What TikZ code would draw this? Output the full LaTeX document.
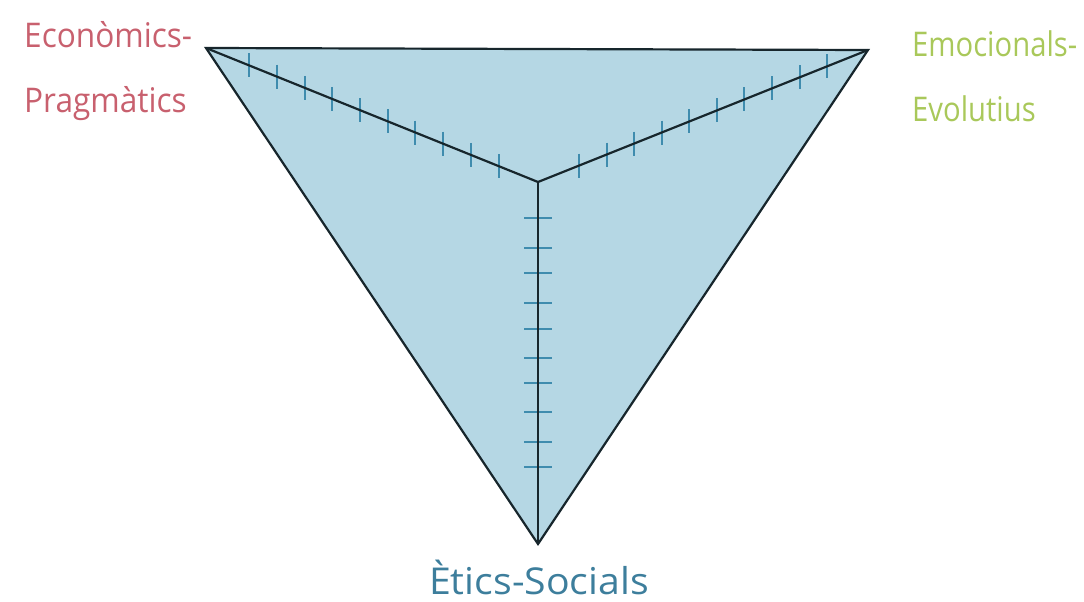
\documentclass[tikz,border=0pt]{standalone}
\usepackage{fontspec}
\setmainfont{Open Sans}
\usetikzlibrary{calc}
\definecolor{fillblue}{HTML}{B5D7E4}
\definecolor{edge}{HTML}{17262C}
\definecolor{tickc}{HTML}{3F8CAE}
\definecolor{redlab}{HTML}{C8606E}
\definecolor{greenlab}{HTML}{A9C85A}
\definecolor{bluelab}{HTML}{3D7E9C}
\begin{document}
\begin{tikzpicture}[x=1pt,y=-1pt,
  edgeline/.style={draw=edge,line width=2.2pt,line join=miter},
  tickline/.style={draw=tickc,line width=2pt},
  lab/.style={font=\fontsize{34}{40}\selectfont\addfontfeature{FakeStretch=0.93}, inner sep=0pt, anchor=base west},
  greenlabel/.style={font=\fontsize{34}{40}\selectfont\addfontfeature{FakeStretch=0.86}, inner sep=0pt, anchor=base west, text=greenlab},
  biglab/.style={font=\fontsize{37}{42}\selectfont\addfontfeature{FakeStretch=1.06}, inner sep=0pt, anchor=base}]
\useasboundingbox (0,0) rectangle (1084,602);
\coordinate (A) at (206,48);
\coordinate (B) at (868,50);
\coordinate (C) at (538,544);
\coordinate (O) at (538,182);
\fill[fillblue] (A) -- (B) -- (C) -- cycle;
% ticks on left spoke
\foreach \t in {0.13,0.2135,0.297,0.3805,0.464,0.5475,0.631,0.7145,0.798,0.8815}{
  \draw[tickline] ($(A)!\t!(O)+(0,-12)$) -- ($(A)!\t!(O)+(0,12)$);
}
% ticks on right spoke
\foreach \t in {0.124,0.2076,0.2912,0.3748,0.4584,0.542,0.6256,0.7092,0.7928,0.8764}{
  \draw[tickline] ($(O)!\t!(B)+(0,-12)$) -- ($(O)!\t!(B)+(0,12)$);
}
% ticks on vertical spoke
\foreach \y in {218,248,273,303,329,358,383,412,442,467}{
  \draw[tickline] (524,\y) -- (552,\y);
}
\draw[edgeline] (A) -- (B) -- (C) -- cycle;
\draw[edgeline] (A) -- (O);
\draw[edgeline] (B) -- (O);
\draw[edgeline] (C) -- (O);
\node[lab, text=redlab] (econ1) at (24,48) {Econòmics-};
\node[lab, text=redlab] (econ2) at (24,112) {Pragmàtics};
\node[greenlabel] (emoc1) at (912,57) {Emocionals-};
\node[greenlabel] (emoc2) at (912,121) {Evolutius};
\node[biglab, text=bluelab] (etic) at (539,594) {Ètics-Socials};
\end{tikzpicture}
\end{document}
